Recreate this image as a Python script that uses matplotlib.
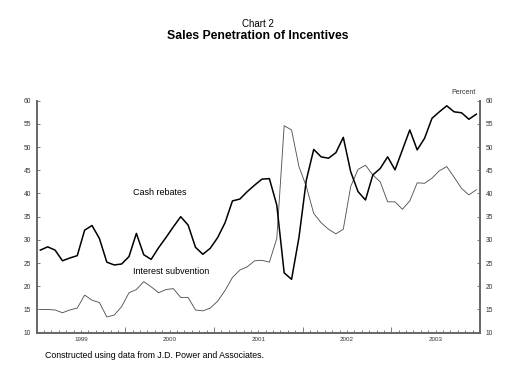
import numpy as np
import matplotlib
matplotlib.use("Agg")
import matplotlib.pyplot as plt
from matplotlib.ticker import FixedLocator, MultipleLocator

plt.rcParams['font.family'] = ['Liberation Sans', 'DejaVu Sans']

# monthly data, Jan 1999 - Dec 2003 (percent)
cash_rebates = [27.8, 28.5, 27.8, 25.5, 26.1, 26.6, 32.1, 33.1, 30.3, 25.2,
                24.6, 24.8, 26.4, 31.4, 26.8, 25.8, 28.3, 30.5, 32.8, 35.0,
                33.2, 28.4, 26.9, 28.2, 30.5, 33.7, 38.4, 38.8, 40.4, 41.8,
                43.1, 43.2, 37.5, 22.9, 21.5, 30.5, 42.9, 49.5, 47.9, 47.6,
                48.8, 52.1, 44.7, 40.4, 38.6, 44.0, 45.4, 47.9, 45.1, 49.4,
                53.7, 49.4, 51.9, 56.2, 57.6, 58.9, 57.6, 57.4, 56.0, 57.1]
interest_subvention = [15.0, 15.0, 14.9, 14.3, 14.9, 15.3, 18.1, 17.0, 16.5, 13.4,
                       13.8, 15.6, 18.6, 19.3, 21.0, 19.9, 18.6, 19.3, 19.5, 17.6,
                       17.6, 14.9, 14.7, 15.3, 16.8, 19.1, 21.9, 23.5, 24.2, 25.5,
                       25.6, 25.2, 30.3, 54.6, 53.7, 45.8, 41.5, 35.7, 33.7, 32.3,
                       31.3, 32.3, 41.5, 45.2, 46.1, 44.0, 42.5, 38.2, 38.2, 36.6,
                       38.4, 42.3, 42.2, 43.3, 44.9, 45.8, 43.5, 41.1, 39.7, 40.8]
years = ['1999', '2000', '2001', '2002', '2003']
yticks = [10, 15, 20, 25, 30, 35, 40, 45, 50, 55, 60]

months = np.arange(len(cash_rebates)) + 0.5

fig = plt.figure(figsize=(5.12, 3.81), dpi=100)
ax = fig.add_axes([0.0715, 0.1268, 0.866, 0.6089])

ax.plot(months, interest_subvention, color='#555555', linewidth=0.65)
ax.plot(months, cash_rebates, color='black', linewidth=1.1)

ax.set_xlim(0, 60)
ax.set_ylim(10, 60)

spine_col = '#666666'
ax.spines['top'].set_visible(False)
for s in ['left', 'right', 'bottom']:
    ax.spines[s].set_color(spine_col)
    ax.spines[s].set_linewidth(1.4)

ax.set_yticks(yticks)
ax.tick_params(axis='y', which='both', left=True, right=True, labelleft=True,
               labelright=True, direction='in', length=2, width=0.6,
               color=spine_col, labelsize=4.8, pad=4, labelcolor='#333333')

ax.xaxis.set_major_locator(FixedLocator([12, 24, 36, 48]))
ax.xaxis.set_minor_locator(MultipleLocator(1))
ax.set_xticklabels([])
ax.tick_params(axis='x', which='major', direction='in', length=4, width=0.6,
               color=spine_col)
ax.tick_params(axis='x', which='minor', direction='in', length=2, width=0.6,
               color=spine_col)
for k, yr in enumerate(years):
    ax.text(6 + 12 * k, 9.0, yr, ha='center', va='top', fontsize=4.5,
            color='#333333')

ax.text(13.0, 40.2, 'Cash rebates', fontsize=6.5, va='center', ha='left')
ax.text(13.0, 23.1, 'Interest subvention', fontsize=6.5, va='center', ha='left')
ax.text(59.4, 61.7, 'Percent', fontsize=5, ha='right', va='center',
        color='#333333')

fig.text(0.504, 0.937, 'Chart 2', fontsize=7, ha='center', va='center')
fig.text(0.503, 0.905, 'Sales Penetration of Incentives', fontsize=8.8,
         fontweight='bold', ha='center', va='center')
fig.text(0.088, 0.066, 'Constructed using data from J.D. Power and Associates.',
         fontsize=6.3, ha='left', va='center')

fig.savefig('out.png', dpi=100)
